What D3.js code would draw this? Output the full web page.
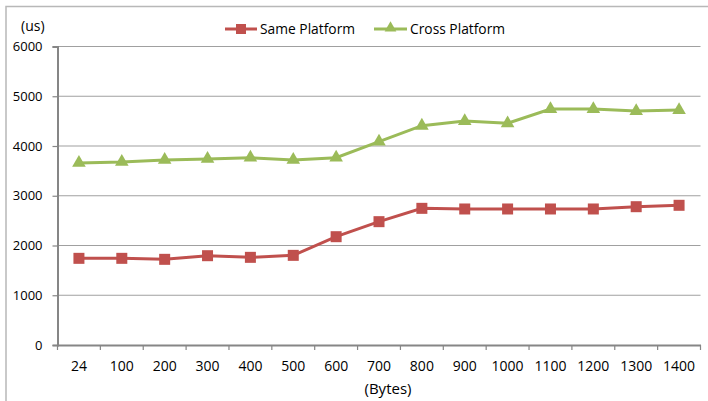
<!DOCTYPE html>
<html><head><meta charset="utf-8">
<script src="https://cdn.jsdelivr.net/npm/d3@7"></script>
<style>body{margin:0;background:#fff}svg{display:block}text{font-family:"Open Sans",sans-serif;fill:#000}</style>
</head><body>
<script>
const categories = ["24","100","200","300","400","500","600","700","800","900","1000","1100","1200","1300","1400"];
const samePlatform = [1742,1742,1722,1795,1762,1802,2177,2479,2747,2734,2734,2734,2734,2780,2808];
const crossPlatform = [3660,3680,3720,3740,3765,3720,3765,4087,4408,4503,4456,4744,4744,4704,4724];
const yTicks = [0,1000,2000,3000,4000,5000,6000];
const seriesNames = ["Same Platform","Cross Platform"];

const W=708,H=401;
const svg=d3.select("body").append("svg").attr("width",W).attr("height",H);
// outer border
svg.append("rect").attr("x",6).attr("y",6.5).attr("width",W+10).attr("height",H+10)
  .attr("fill","none").attr("stroke","#b8b8b8").attr("stroke-width",1.5);

const x=d3.scaleBand().domain(categories).range([57.5,700.5]);
const y=d3.scaleLinear().domain([0,6000]).range([345,46.5]);

// gridlines
svg.append("g").selectAll("line").data(yTicks.filter(d=>d>0)).join("line")
  .attr("x1",57.5).attr("x2",700.5).attr("y1",d=>y(d)).attr("y2",d=>y(d))
  .attr("stroke","#a0a0a0").attr("stroke-width",1.2);

// y axis
const ya=svg.append("g").attr("transform","translate(57.5,0)")
  .call(d3.axisLeft(y).tickValues(yTicks).tickSize(5).tickPadding(4).tickFormat(d3.format("d")));
ya.select(".domain").attr("stroke","#868686").attr("stroke-width",2);
ya.selectAll(".tick line").attr("stroke","#868686").attr("stroke-width",1.2);
ya.selectAll("text").attr("font-size",13).attr("font-family","Open Sans").attr("fill","#000").attr("x",-15);

// x axis
const xa=svg.append("g").attr("transform","translate(0,345)")
  .call(d3.axisBottom(x).tickSize(0).tickPadding(16));
xa.select(".domain").attr("stroke","#868686").attr("stroke-width",2);
xa.selectAll("text").attr("font-size",14).attr("font-family","Open Sans").attr("fill","#000");
// boundary ticks
xa.append("g").selectAll("line").data(d3.range(categories.length+1)).join("line")
  .attr("x1",i=>57.5+i*x.step()).attr("x2",i=>57.5+i*x.step()).attr("y1",0).attr("y2",5)
  .attr("stroke","#868686").attr("stroke-width",1.2);

svg.append("text").attr("x",21).attr("y",31).attr("font-size",14).text("(us)");
svg.append("text").attr("x",388).attr("y",394).attr("text-anchor","middle").attr("font-size",15).text("(Bytes)");

const cx=d=>x(d)+x.bandwidth()/2;
const line=d3.line().x((d,i)=>cx(categories[i])).y(d=>y(d));
const red="#C0504D",green="#9BBB59";

svg.append("path").datum(crossPlatform).attr("d",line).attr("fill","none").attr("stroke",green).attr("stroke-width",3);
svg.append("path").datum(samePlatform).attr("d",line).attr("fill","none").attr("stroke",red).attr("stroke-width",3);

const tri=d3.symbol().type(d3.symbolTriangle).size(80);
svg.append("g").selectAll("path").data(crossPlatform).join("path")
  .attr("d",tri).attr("transform",(d,i)=>`translate(${cx(categories[i])},${y(d)})`).attr("fill",green);
svg.append("g").selectAll("rect").data(samePlatform).join("rect")
  .attr("x",(d,i)=>cx(categories[i])-5.5).attr("y",d=>y(d)-5.5).attr("width",11).attr("height",11).attr("fill",red);

// legend
const lg=svg.append("g");
lg.append("line").attr("x1",225).attr("x2",257).attr("y1",29).attr("y2",29).attr("stroke",red).attr("stroke-width",3);
lg.append("rect").attr("x",236).attr("y",24).attr("width",10).attr("height",10).attr("fill",red);
lg.append("text").attr("x",260).attr("y",34).attr("font-size",13.8).text(seriesNames[0]);
lg.append("line").attr("x1",374).attr("x2",407).attr("y1",29).attr("y2",29).attr("stroke",green).attr("stroke-width",3);
lg.append("path").attr("d",d3.symbol().type(d3.symbolTriangle).size(60)).attr("transform","translate(390.5,28)").attr("fill",green);
lg.append("text").attr("x",410).attr("y",34).attr("font-size",13.8).text(seriesNames[1]);
</script>
</body></html>
